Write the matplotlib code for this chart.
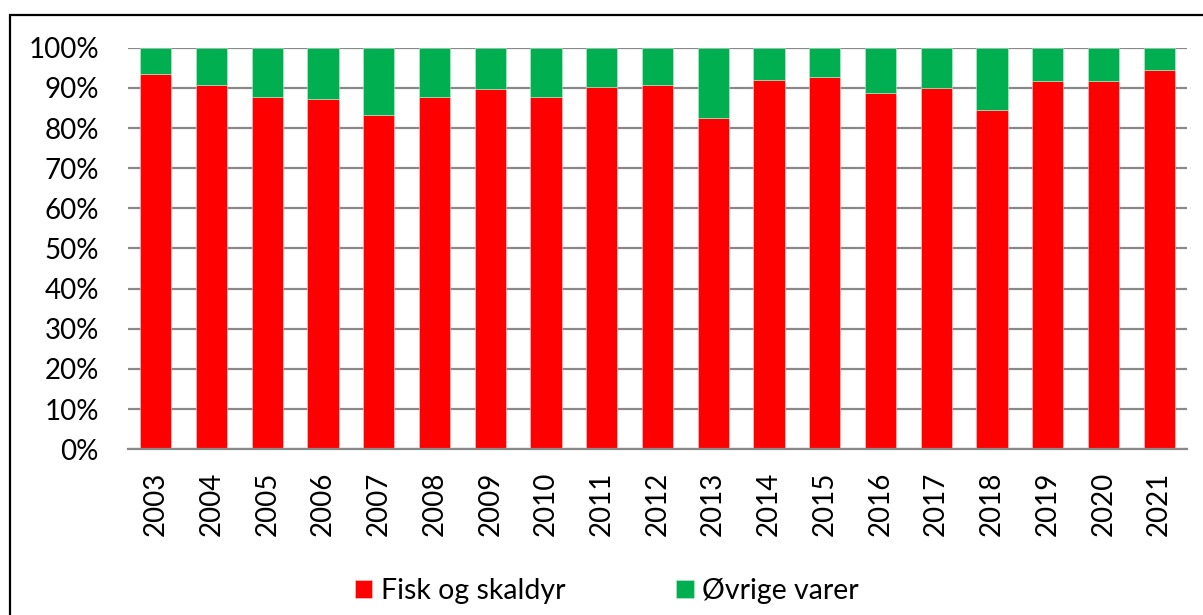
import matplotlib
matplotlib.use("Agg")
import matplotlib.pyplot as plt
from matplotlib.patches import Rectangle
import numpy as np

years = ["2003", "2004", "2005", "2006", "2007", "2008", "2009", "2010", "2011", "2012",
         "2013", "2014", "2015", "2016", "2017", "2018", "2019", "2020", "2021"]
fisk = [93.4, 90.6, 87.7, 87.3, 83.3, 87.8, 89.6, 87.7, 90.2, 90.6,
        82.4, 91.9, 92.7, 88.6, 90.0, 84.6, 91.8, 91.6, 94.5]
ovrige = [100 - v for v in fisk]
yticks = [0, 10, 20, 30, 40, 50, 60, 70, 80, 90, 100]
ytick_labels = [f"{t}%" for t in yticks]

plt.rcParams['font.family'] = ['Lato', 'DejaVu Sans']

W, H = 1203, 615
fig = plt.figure(figsize=(W / 100, H / 100), dpi=100)
ax = fig.add_axes([128 / W, 1 - 449.3 / H, (1187 - 128) / W, (449.3 - 47.7) / H])

x = np.arange(len(years))
red = "#FF0000"
green = "#00B050"
ax.bar(x, fisk, width=0.56, color=red, label="Fisk og skaldyr", zorder=3,
       edgecolor="#ffd0d0", linewidth=0.4)
ax.bar(x, ovrige, width=0.56, bottom=fisk, color=green, label="Øvrige varer", zorder=3,
       edgecolor="#c0e8d0", linewidth=0.4)

ax.set_xlim(-0.5, len(years) - 0.5)
ax.set_ylim(0, 100)
ax.set_yticks(yticks)
ax.set_yticklabels(ytick_labels, fontsize=20)
ax.set_xticks(x)
ax.set_xticklabels(years, rotation=90, fontsize=20)
ax.tick_params(axis='y', length=0, pad=21)
ax.tick_params(axis='x', length=0, pad=16)
ax.grid(axis='y', color="#898989", linewidth=1.6, zorder=0)
for s in ["left", "right", "top"]:
    ax.spines[s].set_visible(False)
ax.spines["bottom"].set_color("#898989")
ax.spines["bottom"].set_linewidth(1.6)
ax.spines["bottom"].set_zorder(4)

leg = fig.legend(loc="center", bbox_to_anchor=(607 / W, 1 - 591 / H), ncol=2, frameon=False,
                 fontsize=20.5, handlelength=0.6, handleheight=0.6, handletextpad=0.3,
                 columnspacing=3.9, borderpad=0)

# figure border (chart area outline)
fig.patches.append(Rectangle((10 / W, -0.1), 1.2, 1 - 15 / H + 0.1, transform=fig.transFigure,
                             fill=False, edgecolor="black", linewidth=1.6, zorder=0))

fig.savefig("out.png", dpi=100)
